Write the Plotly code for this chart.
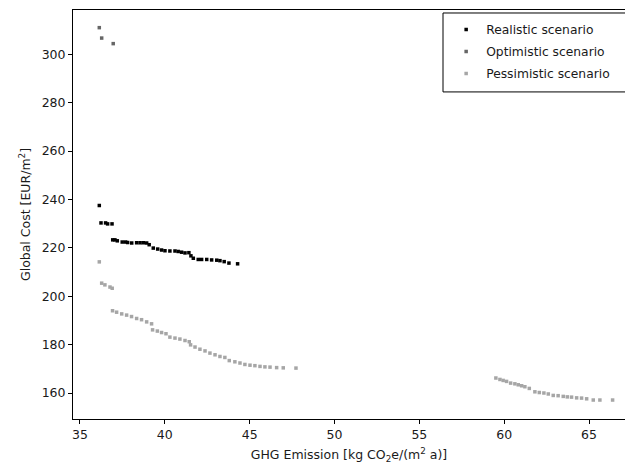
import plotly.graph_objects as go

# Realistic scenario
real_x = [36.14, 36.24, 36.51, 36.63, 36.89,
          36.93, 37.06, 37.20, 37.49, 37.69, 37.81, 38.05, 38.34, 38.54, 38.73, 38.93,
          39.08, 39.32, 39.58, 39.81, 40.01, 40.30, 40.60, 40.79, 40.99, 41.19, 41.42,
          41.54, 41.68, 41.97, 42.17, 42.47, 42.76, 43.06, 43.25, 43.50, 43.78, 44.29]
real_y = [237.5, 230.3, 230.3, 229.9, 229.9,
          223.3, 223.3, 222.9, 222.4, 222.4, 222.2, 222.0, 222.1, 222.1, 222.1, 222.0,
          221.3, 219.9, 219.5, 219.1, 218.8, 218.7, 218.7, 218.5, 218.2, 217.9, 218.0,
          216.7, 215.7, 215.2, 215.2, 215.2, 215.0, 214.9, 214.7, 214.3, 213.7, 213.4]

# Optimistic scenario
opt_x = [36.14, 36.28, 36.96]
opt_y = [311.0, 306.7, 304.4]

# Pessimistic scenario
pes_x = [36.14, 36.28, 36.47, 36.77, 36.90,
         36.92, 37.16, 37.46, 37.75, 38.04, 38.34, 38.63, 38.93, 39.22, 39.28, 39.56,
         39.81, 40.07, 40.30, 40.60, 40.89, 41.19, 41.44, 41.52, 41.78, 42.07, 42.37,
         42.66, 42.96, 43.25, 43.54, 43.80, 44.13, 44.43, 44.72, 45.02, 45.31, 45.61,
         45.90, 46.20, 46.59, 46.98, 47.73,
         59.51, 59.75, 59.94, 60.14, 60.38, 60.63, 60.83, 61.03, 61.22, 61.48, 61.81,
         62.07, 62.34, 62.60, 62.89, 63.18, 63.48, 63.72, 63.97, 64.27, 64.56, 64.86,
         65.25, 65.64, 66.39]
pes_y = [214.2, 205.4, 204.7, 203.8, 203.3,
         194.0, 193.4, 192.7, 192.2, 191.6, 190.8, 190.3, 189.4, 188.6, 186.1, 185.6,
         185.0, 184.5, 183.1, 182.7, 182.3, 181.7, 181.2, 179.9, 179.0, 178.1, 177.4,
         176.5, 175.8, 175.1, 174.7, 173.4, 172.9, 172.4, 171.8, 171.5, 171.3, 171.0,
         170.8, 170.7, 170.5, 170.4, 170.3,
         166.2, 165.6, 165.2, 164.8, 164.1, 163.8, 163.4, 163.0, 162.6, 161.9, 160.5,
         160.2, 160.0, 159.6, 159.0, 158.9, 158.6, 158.4, 158.3, 158.0, 157.9, 157.6,
         157.1, 157.1, 157.1]

x_ticks = [35, 40, 45, 50, 55, 60, 65]
y_ticks = [160, 180, 200, 220, 240, 260, 280, 300]

FONT = "DejaVu Sans"
TXT = "#1a1a1a"

fig = go.Figure()
series = [
    ("Realistic scenario", real_x, real_y, "#000000"),
    ("Optimistic scenario", opt_x, opt_y, "#666666"),
    ("Pessimistic scenario", pes_x, pes_y, "#a6a6a6"),
]
for i, (name, xs, ys, col) in enumerate(series):
    fig.add_trace(go.Scatter(
        x=xs, y=ys, mode="markers", name=name, legendgroup=f"g{i}",
        marker=dict(symbol="square", size=3.5, color=col, line=dict(width=0)),
    ))

# legend frame (extends past the right edge, as in the reference)
fig.add_shape(type="rect", xref="paper", yref="paper",
              x0=0.6703, x1=1.05, y0=0.7997, y1=0.9927,
              line=dict(color="#000000", width=1), fillcolor="white", layer="above")

fig.update_layout(
    width=625, height=465,
    margin=dict(l=73, r=0, t=10, b=46),
    plot_bgcolor="white", paper_bgcolor="white",
    font=dict(family=FONT, size=12.5, color=TXT),
    showlegend=True,
    legend=dict(
        x=0.676, y=0.988, xanchor="left", yanchor="top",
        borderwidth=0, bgcolor="rgba(0,0,0,0)",
        font=dict(family=FONT, size=12.3, color=TXT),
        traceorder="grouped", tracegroupgap=3,
    ),
    xaxis=dict(
        range=[34.59, 67.12], tickvals=x_ticks, ticktext=[str(v) for v in x_ticks],
        showgrid=False, zeroline=False, showline=True, linecolor="#000000", linewidth=1,
        mirror=True, ticks="outside", ticklen=4, tickcolor="#000000",
        tickfont=dict(family=FONT, size=12.5, color=TXT),
        title=dict(text="GHG Emission [kg CO<sub>2</sub>e/(m<sup>2</sup> a)]",
                   font=dict(family=FONT, size=12.5, color=TXT), standoff=9),
    ),
    yaxis=dict(
        range=[149.26, 318.3], tickvals=y_ticks, ticktext=[str(v) for v in y_ticks],
        showgrid=False, zeroline=False, showline=True, linecolor="#000000", linewidth=1,
        mirror=False, ticks="outside", ticklen=4, tickcolor="#000000",
        tickfont=dict(family=FONT, size=12.5, color=TXT),
        title=dict(text="Global Cost [EUR/m<sup>2</sup>]",
                   font=dict(family=FONT, size=12.5, color=TXT), standoff=8),
    ),
)

fig.write_html("out.html")
